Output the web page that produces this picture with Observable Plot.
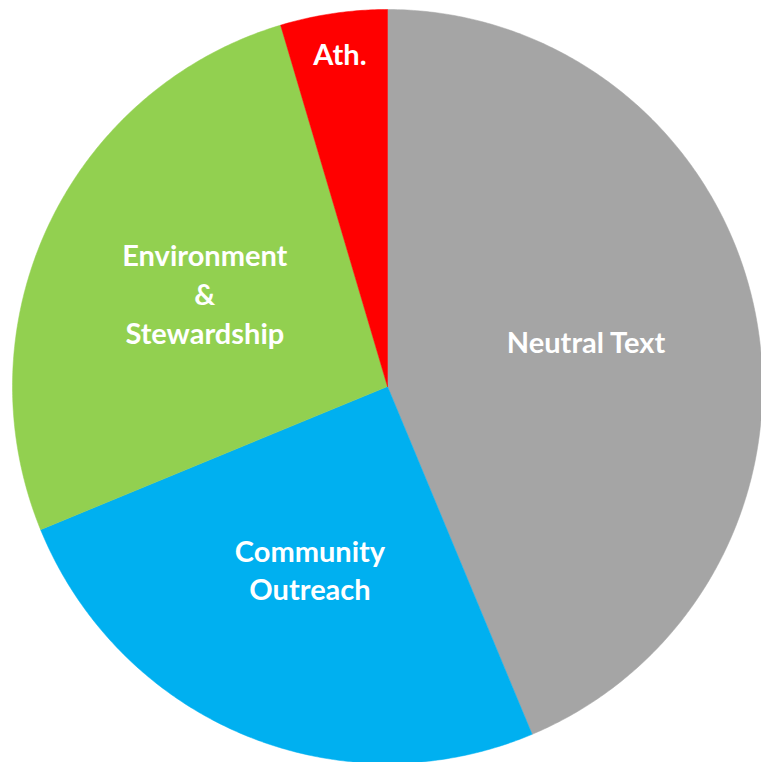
<!DOCTYPE html>
<html>
<head>
<meta charset="utf-8">
<script src="https://cdn.jsdelivr.net/npm/d3@7"></script>
<script src="https://cdn.jsdelivr.net/npm/@observablehq/plot@0.6"></script>
<style>
  html, body { margin: 0; padding: 0; background: #fff; }
  #chart svg { display: block; }
</style>
</head>
<body>
<div id="chart"></div>
<script>
// Data (clockwise from 12 o'clock)
const categories = ["Neutral Text", "Community\nOutreach", "Environment\n&\nStewardship", "Ath."];
const values = [43.7, 25.1, 26.6, 4.6];
const colors = ["#A5A5A5", "#00B0F0", "#92D050", "#FF0000"];

const total = d3.sum(values);
const polys = [];
const labels = [];
let start = 0;
values.forEach((v, i) => {
  const a0 = start / total * 2 * Math.PI;
  const a1 = (start + v) / total * 2 * Math.PI;
  start += v;
  const pts = [{k: i, x: 0, y: 0}];
  const n = Math.max(2, Math.ceil((a1 - a0) / (Math.PI / 360)));
  for (let j = 0; j <= n; j++) {
    const a = a0 + (a1 - a0) * j / n;
    pts.push({k: i, x: Math.sin(a), y: Math.cos(a)});
  }
  pts.push({k: i, x: 0, y: 0});
  polys.push(...pts);
  const am = (a0 + a1) / 2;
  const r = v / total < 0.1 ? 0.88 : 0.54;
  labels.push({k: i, label: categories[i], x: r * Math.sin(am), y: r * Math.cos(am)});
});

const chart = Plot.plot({
  width: 761,
  height: 762,
  margin: 0,
  x: {domain: [-1, 1], range: [12, 762], axis: null},
  y: {domain: [-1, 1], range: [763, 9], axis: null},
  color: {domain: d3.range(values.length), range: colors},
  marks: [
    Plot.line(polys, {x: "x", y: "y", z: "k", fill: "k", stroke: "k", strokeWidth: 0.5, curve: "linear"}),
    Plot.text(labels, {
      x: "x", y: "y", text: "label", dy: -6,
      fill: "white", fontSize: 29, fontWeight: "bold",
      fontFamily: "Lato, 'Open Sans', sans-serif",
      lineHeight: 1.33, lineAnchor: "middle", textAnchor: "middle"
    })
  ]
});
document.getElementById("chart").append(chart);
</script>
</body>
</html>
